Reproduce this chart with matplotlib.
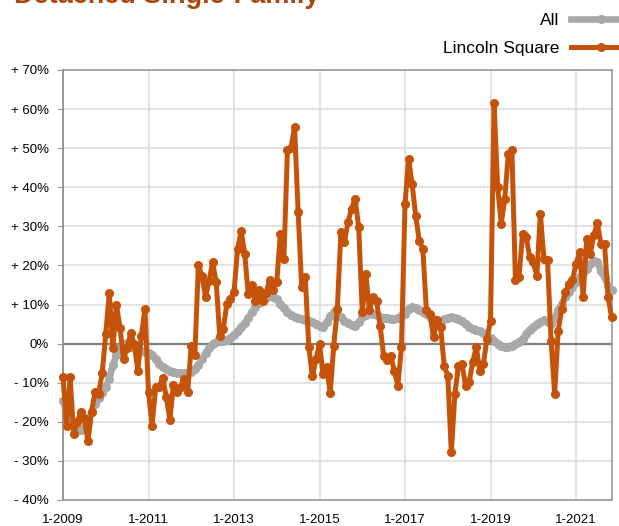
import numpy as np
import matplotlib.pyplot as plt

plt.rcParams['font.family'] = ['Liberation Sans', 'DejaVu Sans']

# monthly values, Jan 2009 .. Nov 2021 (% change)
lincoln_square = [
    -8.6, -21, -8.6, -23, -20, -17.5, -19, -25, -17.5, -12.3, -12.8, -7.5,
    2.5, 12.9, -1, 10, 4, -4, -1, 2.6, 0, -6.9, 2, 8.9,
    -12.4, -21, -11.2, -11, -8.7, -13.7, -19.5, -10.5, -12.4, -11, -9, -12.4,
    -0.5, -3, 20, 17.4, 11.9, 16, 20.8, 15.7, 2, 3.8, 10.2, 11.5,
    13.1, 24.2, 28.9, 23, 12.7, 14.9, 11, 13.6, 11, 13, 16.2, 13.6,
    15.7, 28.1, 21.7, 49.5, 50, 55.5, 33.7, 14.4, 17, -0.9, -8.4, -4,
    0, -7.8, -6.1, -12.7, -0.5, 8.9, 28.5, 26, 31.1, 34.5, 37, 29.8,
    8, 17.8, 8.5, 11.9, 11, 4.6, -3.1, -4.3, -3.1, -6.9, -10.8, -0.9,
    35.7, 47.2, 40.8, 32.7, 26.3, 24.2, 8.5, 7.6, 1.6, 6, 4.2, -5.6,
    -8.2, -27.8, -12.9, -5.6, -5.2, -10.8, -9.9, -4.7, -0.9, -6.9, -5.2, 1.2,
    5.9, 61.6, 40, 30.7, 37, 48.6, 49.5, 16.2, 17, 28.1, 27.3, 22.1,
    20.8, 17.4, 33.2, 21.7, 21.3, 0.8, -12.9, 3.3, 8.9, 13.1, 15.3, 16.2,
    20.4, 23.4, 11.9, 26.8, 23, 27.7, 30.8, 25.5, 25.5, 11.9, 6.7,
]

all_areas = [
    -14.6, -17.5, -19.5, -21, -22, -22, -21.5, -20, -17.5, -15.4, -14, -12.5,
    -11, -9, -5.5, -3, -1, 0, 0.2, -0.5, -1.2, -1.8, -2, -2.2,
    -2.4, -3, -4, -5.2, -6, -6.6, -7, -7.2, -7.4, -7.5, -7.5, -7.6,
    -7.2, -6.5, -5.5, -4, -2.5, -1, 0, 0.5, 0.8, 0.8, 1, 1.5,
    2.3, 3.2, 4.2, 5.3, 6.5, 8, 9.3, 10.3, 11.2, 11.8, 12.2, 12,
    11.3, 10.2, 9, 8, 7.3, 6.9, 6.5, 6.2, 6, 5.8, 5.5, 5,
    4.6, 4.3, 5.5, 7, 8, 7.8, 6.9, 5.9, 5.2, 4.8, 4.6, 5.5,
    6.7, 7.4, 8, 7.7, 7.2, 6.8, 6.6, 6.5, 6.4, 6.4, 6.6, 7,
    7.5, 8.8, 9.3, 9, 8.6, 8.2, 7.6, 6.9, 6.2, 5.6, 5.8, 6.2,
    6.5, 6.8, 6.6, 6.3, 5.8, 5, 4.2, 3.8, 3.6, 3.2, 2.6, 2,
    1.5, 0.8, 0, -0.5, -0.8, -0.9, -0.5, 0, 0.5, 1.2, 2.5, 3.6,
    4.2, 5, 5.5, 6, 5.6, 5, 6.5, 8.5, 10.2, 11.9, 13.2, 14.6,
    15.8, 17, 18, 19.2, 20.4, 21.2, 21, 18.5, 17, 14.8, 13.6,
]

tick_months = [0, 24, 48, 72, 96, 120, 144]
tick_labels = ['1-2009', '1-2011', '1-2013', '1-2015', '1-2017', '1-2019', '1-2021']
y_ticks = [-40, -30, -20, -10, 0, 10, 20, 30, 40, 50, 60, 70]

orange = '#C5540A'
gray = '#A8A8A8'

fig = plt.figure(figsize=(6.19, 5.26), dpi=100)
ax = fig.add_axes([63 / 619, 1 - 500 / 526, (612 - 63) / 619, (500 - 70) / 526])

months = np.arange(len(lincoln_square))

ax.plot(months, all_areas, color=gray, lw=4.8, marker='o', ms=5.5,
        label='All', zorder=3, clip_on=False)
ax.plot(months, lincoln_square, color=orange, lw=3.6, marker='o', ms=5.5,
        label='Lincoln Square', zorder=4, clip_on=False)

ax.axhline(0, color='#7f7f7f', lw=1.6, zorder=2)

ax.set_xlim(0, 154.1)
ax.set_ylim(-40, 70)
ax.set_xticks(tick_months)
ax.set_xticklabels(tick_labels)
ax.set_yticks(y_ticks)
ax.set_yticklabels([('+ %d%%' % v) if v > 0 else ('- %d%%' % -v if v < 0 else '0%')
                    for v in y_ticks])

ax.grid(True, color='#DDDDDD', lw=1.2, zorder=0)
ax.set_axisbelow(True)
for s in ax.spines.values():
    s.set_color('#999999')
    s.set_linewidth(1.2)
ax.spines['left'].set_color('#888888')
ax.tick_params(axis='y', length=4, color='#999999', labelsize=9.5, pad=6)
ax.tick_params(axis='x', length=0, labelsize=9.5, pad=10)

# title is cut off by the top edge in the original
fig.text(14 / 619, 1 - 3 / 526, 'Detached Single-Family', color='#A9470D',
         fontsize=19.5, fontweight='bold', va='baseline', ha='left')

ax.legend(loc='upper right', bbox_to_anchor=(1.062, 1.17), frameon=False,
          markerfirst=False, fontsize=12.5, handlelength=3.4,
          labelspacing=0.75, handletextpad=0.7)

fig.savefig('out.png', dpi=100)
